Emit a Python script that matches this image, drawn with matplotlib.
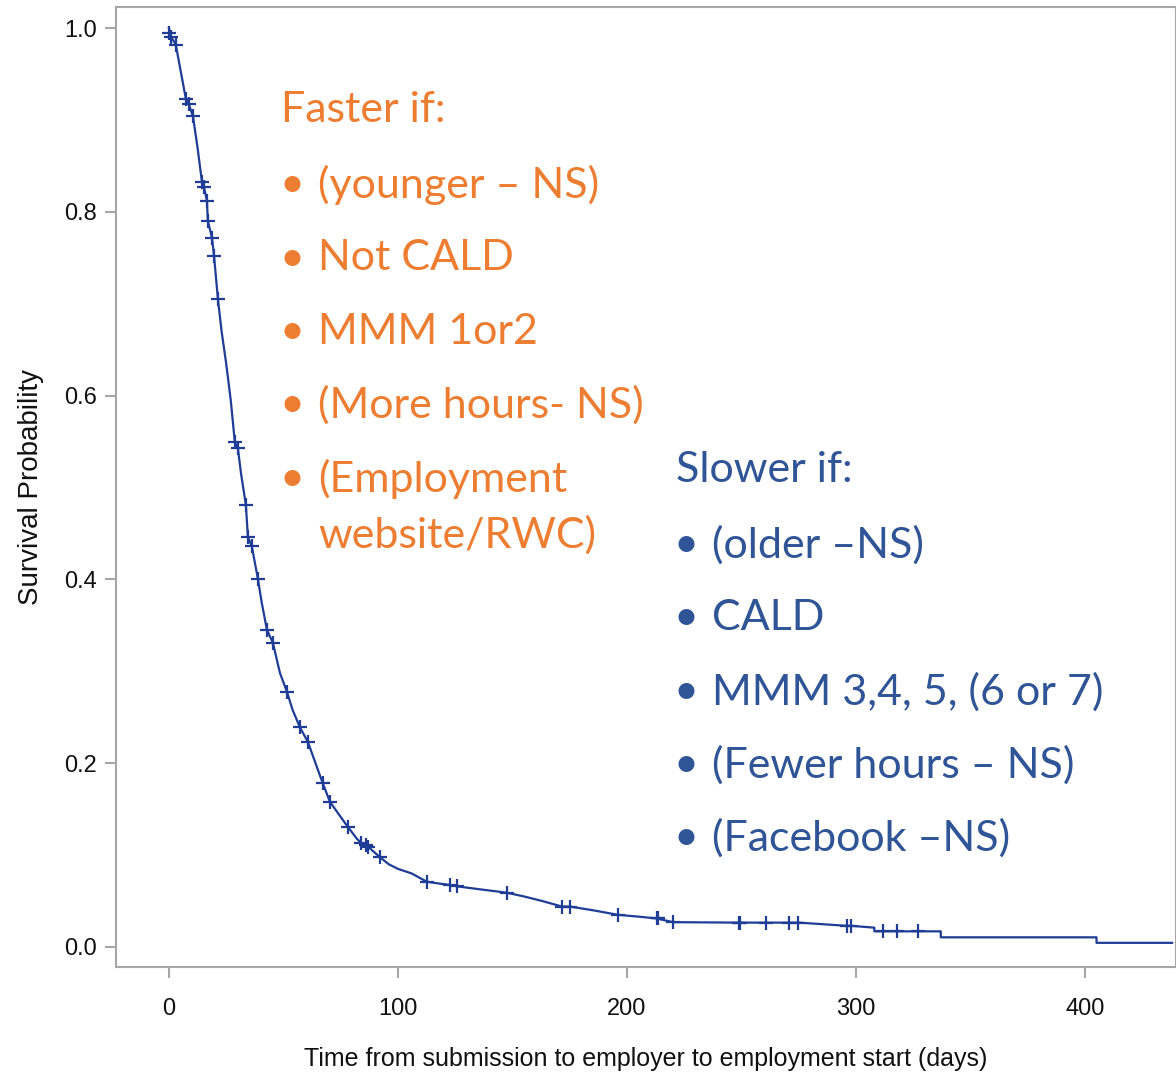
import matplotlib.pyplot as plt

# Kaplan-Meier curve, knots (days, survival)
days = [0, 1, 3, 5, 7.4, 8.7, 10.5, 12.5, 14.4, 15.3, 16.6, 17, 18.8, 19.7, 21.4,
        23, 25, 27, 28.8, 30.1, 31.5, 33.6, 34.5, 36.2, 38.9, 40.5, 42.8, 45.4,
        48.5, 51.5, 54, 57.2, 60.7, 64, 67.2, 70.3, 74, 78, 82, 84, 87, 92, 96,
        100, 106, 112.6, 118, 122.7, 125.7, 135, 147.6, 155, 163, 171.6, 175,
        185, 196, 205, 213, 220, 249, 275, 296, 298, 308, 308, 318, 327, 337,
        337, 405, 405, 438]
surv = [1.0, 0.99, 0.982, 0.955, 0.923, 0.917, 0.904, 0.87, 0.833, 0.827, 0.812,
        0.79, 0.772, 0.752, 0.705, 0.67, 0.635, 0.595, 0.549, 0.543, 0.515,
        0.481, 0.446, 0.436, 0.40, 0.375, 0.345, 0.331, 0.298, 0.278, 0.258,
        0.239, 0.223, 0.2, 0.178, 0.158, 0.145, 0.131, 0.118, 0.113, 0.109,
        0.098, 0.09, 0.085, 0.08, 0.071, 0.069, 0.0675, 0.066, 0.063, 0.059,
        0.055, 0.05, 0.044, 0.044, 0.04, 0.035, 0.033, 0.031, 0.027, 0.0265,
        0.0265, 0.023, 0.023, 0.021, 0.017, 0.017, 0.017, 0.017, 0.0105,
        0.0105, 0.0045, 0.0045]

# censored observations (+ marks)
cens_days = [0, 1, 3, 7.4, 8.7, 10.5, 14.4, 15.3, 16.6, 17, 18.8, 19.7, 21.4,
             28.8, 30.1, 33.6, 34.5, 36.2, 38.9, 42.8, 45.4, 51.5, 57.2, 60.7,
             67.2, 70.3, 78, 84, 86, 87, 92, 112.6, 122.7, 125.7, 147.6, 171.6,
             175, 196, 213, 213.5, 220, 249, 249.5, 260.7, 270.7, 274.7, 296,
             298, 311.8, 318, 327]
cens_surv = [0.995, 0.99, 0.982, 0.923, 0.917, 0.904, 0.833, 0.827, 0.812,
             0.79, 0.772, 0.752, 0.705, 0.549, 0.543, 0.481, 0.446, 0.436, 0.40,
             0.345, 0.331, 0.278, 0.239, 0.223, 0.178, 0.158, 0.131, 0.113,
             0.111, 0.109, 0.098, 0.071, 0.0675, 0.066, 0.059, 0.044, 0.044,
             0.035, 0.031, 0.031, 0.027, 0.0265, 0.0265, 0.0265, 0.0265, 0.0265,
             0.023, 0.023, 0.017, 0.017, 0.017]

faster = ["(younger – NS)", "Not CALD", "MMM 1or2", "(More hours- NS)",
          "(Employment\nwebsite/RWC)"]
slower = ["(older –NS)", "CALD", "MMM 3,4, 5, (6 or 7)", "(Fewer hours – NS)",
          "(Facebook –NS)"]

line_col = "#1f3d96"
orange = "#ED7D31"
blue = "#2F5597"
gray = "#a6a6a6"

fig = plt.figure(figsize=(11.76, 10.78), dpi=100)
ax = fig.add_axes([116 / 1176, 1 - 967 / 1078, 1 - 116 / 1176, 960 / 1078])

ax.plot(days, surv, color=line_col, lw=1.6)
ax.plot(cens_days, cens_surv, ls="none", marker="+", ms=10, mew=1.6, color=line_col)

ax.set_xlim(-23.1, 439.7)
ax.set_ylim(-0.0218, 1.0229)
ax.set_xticks([0, 100, 200, 300, 400])
ax.set_yticks([0.0, 0.2, 0.4, 0.6, 0.8, 1.0])
ax.set_yticklabels(["0.0", "0.2", "0.4", "0.6", "0.8", "1.0"])
for s in ax.spines.values():
    s.set_color(gray)
    s.set_linewidth(1.5)
ax.tick_params(colors=gray, length=8, width=1.5, pad=6,
               labelcolor="#111111", labelsize=17)
ax.tick_params(axis="x", pad=14)
for lab in ax.get_xticklabels() + ax.get_yticklabels():
    lab.set_family("Liberation Sans")
ax.set_xlabel("Time from submission to employer to employment start (days)",
              family="Liberation Sans", fontsize=18, color="#111111", labelpad=20)
ax.set_ylabel("Survival Probability", family="Liberation Sans", fontsize=20,
              color="#111111", labelpad=14)

# annotation text in figure pixels
def ptext(x, y, s, color, **kw):
    fig.text(x / 1176, 1 - y / 1078, s, color=color, family="Lato",
             fontsize=31, va="center", ha="left", **kw)

ptext(281, 110, "Faster if:", orange)
fy = 185
for item in faster:
    ptext(279, fy, "•", orange)
    if "\n" in item:
        a, b = item.split("\n")
        ptext(318, fy, a, orange)
        ptext(318, fy + 56, b, orange)
    else:
        ptext(318, fy, item, orange)
    fy += 73.5

ptext(676, 470, "Slower if:", blue)
sy = 545
for item in slower:
    ptext(674, sy, "•", blue)
    ptext(712, sy, item, blue)
    sy += 73.3

fig.savefig("out.png", dpi=100)
